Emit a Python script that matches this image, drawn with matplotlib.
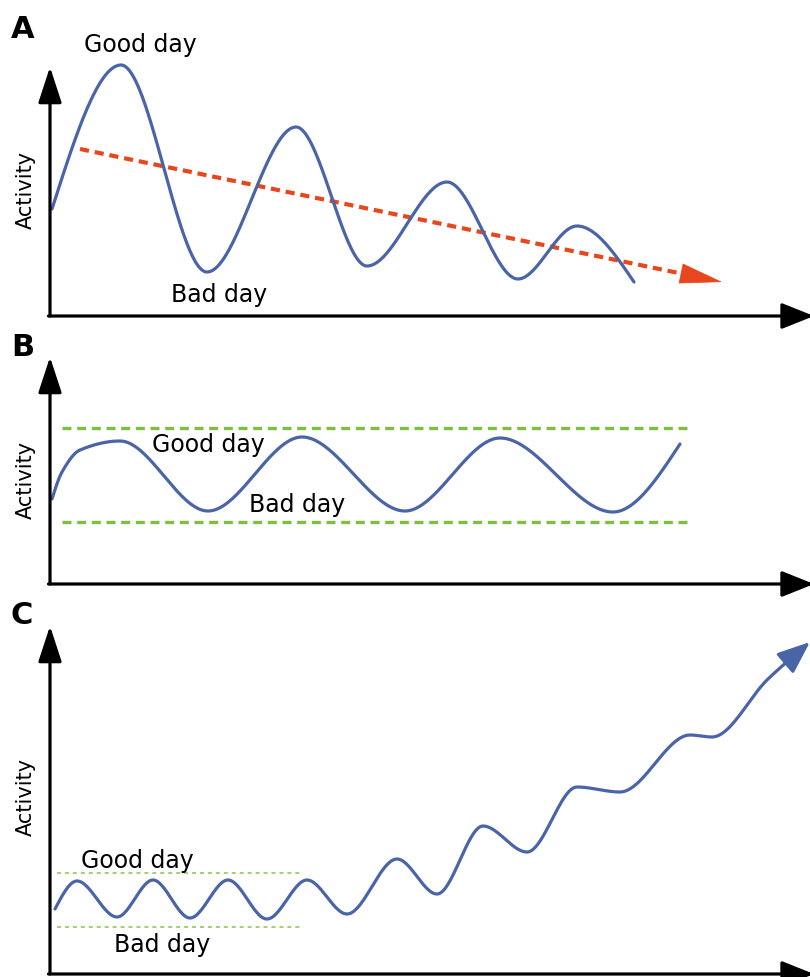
import matplotlib
matplotlib.use("Agg")
import matplotlib.pyplot as plt
import numpy as np

# curve turning points per panel (time, activity); 1 unit ~ 1 px of the figure
A_TIME = [2, 71, 157, 246, 317, 397, 468, 527, 584]
A_ACTIVITY = [107, 251, 44, 189, 50, 134, 37, 90, 34]
A_TREND_TIME = [30, 672]
A_TREND_ACTIVITY = [167, 34]

B_TIME = [2, 12, 30, 70, 158, 252, 355, 450, 563, 630]
B_ACTIVITY = [85, 112, 134, 143, 73, 147, 73, 146, 72, 140]
B_GOOD = 156
B_BAD = 62
B_BAND_TIME = [12, 642]

C_TIME = [5, 27, 67, 103, 140, 178, 217, 257, 297, 347, 387, 433, 477, 527, 570, 640, 662, 718, 760]
C_ACTIVITY = [65, 93, 57, 94, 56, 94, 55, 94, 60, 115, 80, 148, 122, 187, 182, 239, 237, 295, 332]
C_GOOD = 101
C_BAD = 47
C_BAND_TIME = [7, 252]

BLUE = "#4a64a8"
RED = "#e8461c"
GREEN = "#7dbf3f"
GREEN_LIGHT = "#9ccc65"

plt.rcParams["font.family"] = ["DejaVu Sans"]

W, H = 810, 978
LABEL_SIZE = 17
AXIS_LABEL_SIZE = 15


def smooth(xs, ys, n=600):
    """Monotone cubic (PCHIP-like) curve through the read points."""
    x = np.asarray(xs, float)
    y = np.asarray(ys, float)
    h = np.diff(x)
    d = np.diff(y) / h
    m = np.zeros_like(y)
    for k in range(1, len(x) - 1):
        if d[k - 1] * d[k] > 0:
            w1 = 2 * h[k] + h[k - 1]
            w2 = h[k] + 2 * h[k - 1]
            m[k] = (w1 + w2) / (w1 / d[k - 1] + w2 / d[k])
    m[0] = 1.5 * d[0] - 0.5 * m[1]
    m[-1] = 1.5 * d[-1] - 0.5 * m[-2]
    xx = np.linspace(x[0], x[-1], n)
    idx = np.clip(np.searchsorted(x, xx) - 1, 0, len(h) - 1)
    t = (xx - x[idx]) / h[idx]
    h00 = 2 * t**3 - 3 * t**2 + 1
    h10 = t**3 - 2 * t**2 + t
    h01 = -2 * t**3 + 3 * t**2
    h11 = t**3 - t**2
    yy = h00 * y[idx] + h10 * h[idx] * m[idx] + h01 * y[idx + 1] + h11 * h[idx] * m[idx + 1]
    return xx, yy


def make_panel(fig, top_px, bottom_px, letter, letter_y, activity_y):
    left_px, right_px = 50, 814
    ax = fig.add_axes([left_px / W, 1 - bottom_px / H,
                       (right_px - left_px) / W, (bottom_px - top_px) / H])
    ax.set_xlim(0, right_px - left_px)
    ax.set_ylim(0, bottom_px - top_px)
    ax.axis("off")
    arrow = dict(arrowstyle="-|>,head_length=1.1,head_width=0.36", lw=2.3,
                 color="black", shrinkA=0, shrinkB=0, mutation_scale=20)
    ax.annotate("", xy=(0, 1), xytext=(0, 0), xycoords="axes fraction", arrowprops=arrow)
    arrow_x = dict(arrow, arrowstyle="-|>,head_length=1.0,head_width=0.4")
    ax.annotate("", xy=(1, 0), xytext=(-0.002, 0), xycoords="axes fraction", arrowprops=arrow_x)
    ax.text(-24, activity_y, "Activity", rotation=90, fontsize=AXIS_LABEL_SIZE,
            ha="center", va="center")
    fig.text(11 / W, 1 - letter_y / H, letter, fontsize=22, fontweight="bold",
             ha="left", va="center")
    return ax


fig = plt.figure(figsize=(W / 100, H / 100), dpi=100)

# ---- A ----
ax = make_panel(fig, 68, 317, "A", 30, 127)
tx, ty = np.array(A_TREND_TIME, float), np.array(A_TREND_ACTIVITY, float)
vec = np.array([tx[1] - tx[0], ty[1] - ty[0]])
base = np.array([tx[1], ty[1]]) - 29 * vec / np.hypot(*vec)
ax.plot([tx[0], base[0]], [ty[0], base[1]], color=RED, lw=3, ls=(0, (2.2, 1.4)),
        dash_capstyle="butt", clip_on=False)
ax.annotate("", xy=(tx[1], ty[1]), xytext=tuple(base),
            arrowprops=dict(arrowstyle="-|>,head_length=1.45,head_width=0.35", lw=0.5,
                            color=RED, shrinkA=0, shrinkB=0, mutation_scale=20))
xx, yy = smooth(A_TIME, A_ACTIVITY)
ax.plot(xx, yy, color=BLUE, lw=2.3, clip_on=False, solid_capstyle="round")
ax.text(90, 272, "Good day", fontsize=LABEL_SIZE, ha="center", va="center")
ax.text(169, 22, "Bad day", fontsize=LABEL_SIZE, ha="center", va="center")

# ---- B ----
ax = make_panel(fig, 358, 585, "B", 348, 105)
for lvl in (B_GOOD, B_BAD):
    ax.plot(B_BAND_TIME, [lvl, lvl], color=GREEN, lw=2.4, ls=(0, (2.7, 1.7)),
            dash_capstyle="butt")
xx, yy = smooth(B_TIME, B_ACTIVITY)
ax.plot(xx, yy, color=BLUE, lw=2.3, solid_capstyle="round")
ax.text(158, 140, "Good day", fontsize=LABEL_SIZE, ha="center", va="center")
ax.text(247, 80, "Bad day", fontsize=LABEL_SIZE, ha="center", va="center")

# ---- C ----
ax = make_panel(fig, 627, 975, "C", 616, 178)
for lvl in (C_GOOD, C_BAD):
    ax.plot(C_BAND_TIME, [lvl, lvl], color=GREEN_LIGHT, lw=1.3, ls=(0, (2.2, 2.2)),
            dash_capstyle="butt")
xx, yy = smooth(C_TIME, C_ACTIVITY)
keep = xx <= xx[-1] - 12
ax.plot(xx[keep], yy[keep], color=BLUE, lw=2.3, solid_capstyle="round", clip_on=False)
j = np.argmax(xx > xx[-1] - 20)
ax.annotate("", xy=(xx[-1], yy[-1]), xytext=(xx[j], yy[j]),
            arrowprops=dict(arrowstyle="-|>,head_length=1.0,head_width=0.4", lw=2.3,
                            color=BLUE, shrinkA=0, shrinkB=0, mutation_scale=20),
            annotation_clip=False)
ax.text(87, 114, "Good day", fontsize=LABEL_SIZE, ha="center", va="center")
ax.text(112, 30, "Bad day", fontsize=LABEL_SIZE, ha="center", va="center")

fig.savefig("out.png", dpi=100, facecolor="white")
